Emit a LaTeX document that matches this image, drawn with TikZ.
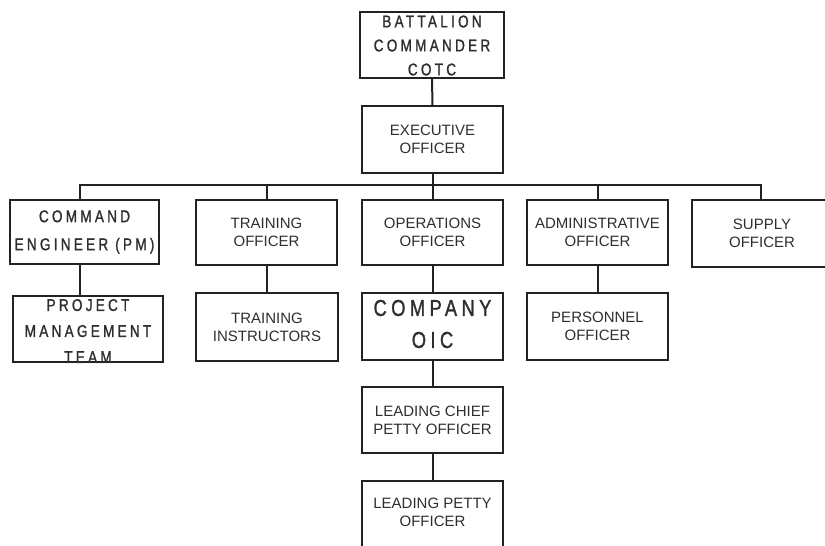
\documentclass[tikz,border=0pt]{standalone}
\usepackage{fontspec}
\setmainfont{Liberation Sans}
\newfontfamily\spacedfont[LetterSpace=19,FakeStretch=0.8,FakeBold=1.2]{Liberation Sans}
\definecolor{linec}{HTML}{222222}
\definecolor{txtc}{HTML}{2E2E2E}
\begin{document}
\begin{tikzpicture}[x=1pt,y=-1pt,
  box/.style={draw=linec, line width=2pt, minimum width=141pt, minimum height=66pt, inner sep=0pt},
  lbl/.style={align=center, text=txtc, inner sep=0pt, font=\fontsize{15}{18}\selectfont},
  slbl/.style={align=center, text=txtc, inner sep=0pt},
  conn/.style={draw=linec, line width=2pt, line join=miter}]
\useasboundingbox (0,0) rectangle (825,546);
\clip (0,0) rectangle (825,546);

% boxes
\node[box, minimum width=144pt] (bat) at (432,45) {};
\node[box, minimum height=67pt] (exec) at (432.5,139.5) {};
\node[box, minimum width=149pt, minimum height=64pt] (cmdeng) at (84.5,232) {};
\node[box, minimum width=150pt] (pmt) at (88,329) {};
\node[box, minimum height=65pt] (trn) at (266.5,232.5) {};
\node[box, minimum width=142pt, minimum height=68pt] (tri) at (267,327) {};
\node[box, minimum height=65pt] (ops) at (432.5,232.5) {};
\node[box, minimum height=67pt] (comp) at (432.5,326.5) {};
\node[box] (lcpo) at (432.5,420) {};
\node[box, minimum height=68pt] (lpo) at (432.5,515) {};
\node[box, minimum height=65pt] (adm) at (597.5,232.5) {};
\node[box, minimum height=67pt] (pers) at (597.5,326.5) {};
\node[box, minimum width=140pt, minimum height=67pt] (sup) at (762,233.5) {};

% labels
\node[slbl, font=\spacedfont\fontsize{17}{24}\selectfont] (batT) at ([yshift=-0.5pt]bat.center) {BATTALION\\COMMANDER\\COTC};
\node[lbl] (execT) at (exec) {EXECUTIVE\\OFFICER};
\node[slbl, font=\spacedfont\fontsize{17}{28}\selectfont] (cmdengT) at (cmdeng) {COMMAND\\ENGINEER (PM)};
\node[slbl, font=\spacedfont\fontsize{17}{26}\selectfont] (pmtT) at ([yshift=-2pt]pmt.center) {PROJECT\\MANAGEMENT\\TEAM};
\node[slbl, font=\spacedfont\fontsize{23}{32}\selectfont] (compT) at ([yshift=2.5pt]comp.center) {COMPANY\\OIC};
\node[lbl] (trnT) at (trn) {TRAINING\\OFFICER};
\node[lbl] (triT) at (tri) {TRAINING\\INSTRUCTORS};
\node[lbl] (opsT) at (ops) {OPERATIONS\\OFFICER};
\node[lbl] (lcpoT) at (lcpo) {LEADING CHIEF\\PETTY OFFICER};
\node[lbl] (lpoT) at (432.5,512) {LEADING PETTY\\OFFICER};
\node[lbl] (admT) at (adm) {ADMINISTRATIVE\\OFFICER};
\node[lbl] (persT) at (pers) {PERSONNEL\\OFFICER};
\node[lbl] (supT) at (sup) {SUPPLY\\OFFICER};

% connectors
\coordinate (busL) at (80,185);
\coordinate (busR) at (761,185);
\draw[conn] (bat.south) -- (exec.north);
\draw[conn] (exec.south) -- (exec.south |- busL);
\draw[conn] (cmdeng.north -| busL) -- (busL) -- (busR) -- (sup.north -| busR);
\draw[conn] (trn.north) -- (trn.north |- busL);
\draw[conn] (ops.north) -- (ops.north |- busL);
\draw[conn] (adm.north) -- (adm.north |- busL);
\draw[conn] (cmdeng.south -| busL) -- (pmt.north -| busL);
\draw[conn] (trn.south) -- (tri.north -| trn.south);
\draw[conn] (ops.south) -- (comp.north);
\draw[conn] (adm.south) -- (pers.north -| adm.south);
\draw[conn] (comp.south) -- (lcpo.north);
\draw[conn] (lcpo.south) -- (lpo.north);
\end{tikzpicture}
\end{document}
